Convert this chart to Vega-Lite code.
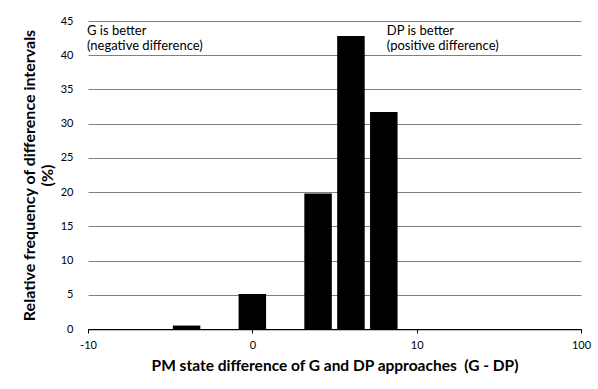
{
  "$schema": "https://vega.github.io/schema/vega-lite/v6.json",
  "width": 493,
  "height": 308,
  "autosize": "none",
  "padding": {"left": 88, "top": 21, "right": 17, "bottom": 60},
  "background": "white",
  "config": {"font": "Lato", "view": {"stroke": null}},
  "datasets": {
    "freq": [
      {"diff": "-10", "pct": 0},
      {"diff": "-8", "pct": 0},
      {"diff": "-6", "pct": 0},
      {"diff": "-4", "pct": 0.5},
      {"diff": "-2", "pct": 0},
      {"diff": "0", "pct": 5.1},
      {"diff": "2", "pct": 0},
      {"diff": "4", "pct": 19.8},
      {"diff": "6", "pct": 42.8},
      {"diff": "8", "pct": 31.7},
      {"diff": "10", "pct": 0},
      {"diff": "20", "pct": 0},
      {"diff": "40", "pct": 0},
      {"diff": "60", "pct": 0},
      {"diff": "80", "pct": 0},
      {"diff": "100", "pct": 0}
    ],
    "notes": [
      {"diff": "-10", "pct": 43.0, "label": "G is better\n(negative difference)"},
      {"diff": "8", "pct": 43.0, "label": "DP is better\n(positive difference)"}
    ]
  },
  "encoding": {
    "x": {
      "field": "diff",
      "type": "ordinal",
      "sort": null,
      "scale": {
        "type": "point",
        "padding": 0,
        "domain": ["-10","-8","-6","-4","-2","0","2","4","6","8","10","20","40","60","80","100"]
      },
      "axis": {
        "values": ["-10", "0", "10", "100"],
        "labelAngle": 0,
        "labelFontSize": 11,
        "labelColor": "black",
        "labelPadding": 6,
        "tickSize": 4,
        "tickColor": "black",
        "domainColor": "black",
        "domainWidth": 1.25,
        "grid": false,
        "title": "PM state difference of G and DP approaches \u00a0(G - DP)",
        "titleFontSize": 15.5,
        "titleFontWeight": "bold",
        "titleColor": "black",
        "titlePadding": 8
      }
    },
    "y": {
      "field": "pct",
      "type": "quantitative",
      "scale": {"domain": [0, 45], "nice": false},
      "axis": {
        "values": [0, 5, 10, 15, 20, 25, 30, 35, 40, 45],
        "labelOverlap": false,
        "domain": false,
        "ticks": false,
        "labelPadding": 15,
        "labelFontSize": 11,
        "labelColor": "black",
        "gridColor": "#808080",
        "gridWidth": 1,
        "title": ["Relative frequency of difference intervals", "(%)"],
        "titleFontSize": 16,
        "titleFontWeight": "bold",
        "titleColor": "black",
        "titleLineHeight": 18,
        "titlePadding": 5
      }
    }
  },
  "layer": [
    {
      "data": {"name": "freq"},
      "mark": {"type": "bar", "color": "black", "size": 27.5}
    },
    {
      "data": {"values": [{"diff": "0"}]},
      "mark": {"type": "rule", "color": "black", "strokeWidth": 1},
      "encoding": {"y": {"datum": 0}, "y2": {"datum": 45}}
    },
    {
      "data": {"name": "notes"},
      "transform": [{"filter": "datum.diff === '-10'"}],
      "mark": {"type": "text", "align": "left", "baseline": "alphabetic", "fontSize": 13, "lineBreak": "\n", "lineHeight": 15, "dx": -1, "color": "black"},
      "encoding": {"text": {"field": "label"}}
    },
    {
      "data": {"name": "notes"},
      "transform": [{"filter": "datum.diff === '8'"}],
      "mark": {"type": "text", "align": "left", "baseline": "alphabetic", "fontSize": 13, "lineBreak": "\n", "lineHeight": 15, "dx": 3, "color": "black"},
      "encoding": {"text": {"field": "label"}}
    }
  ]
}
